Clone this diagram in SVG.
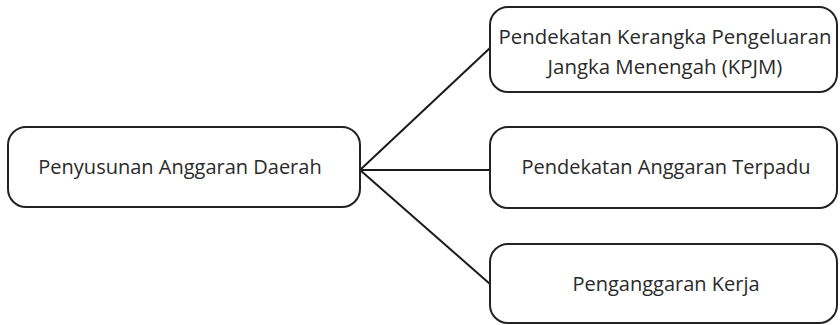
<svg xmlns="http://www.w3.org/2000/svg" width="840" height="325" viewBox="0 0 840 325">
<style>
.box{fill:#fff;stroke:#222;stroke-width:2}
.t{font-family:"Open Sans","Liberation Sans",sans-serif;font-size:20px;fill:#2a2a2a;text-anchor:middle}
.big{font-size:20.4px}
.c{stroke:#1a1a1a;stroke-width:2;fill:none}
</style>
<rect width="840" height="325" fill="#fff"/>
<g id="connectors">
<line class="c" x1="360" y1="170" x2="490" y2="48"/>
<line class="c" x1="360" y1="170" x2="490" y2="170"/>
<line class="c" x1="360" y1="170" x2="490" y2="284"/>
</g>
<g id="root">
<rect class="box" x="8" y="127" width="352" height="80" rx="18"/>
<text class="t" x="180" y="174">Penyusunan Anggaran Daerah</text>
</g>
<g id="kpjm">
<rect class="box" x="490" y="7" width="347" height="85" rx="18"/>
<text class="t big" x="665" y="44">Pendekatan Kerangka Pengeluaran</text>
<text class="t big" x="665" y="74">Jangka Menengah (KPJM)</text>
</g>
<g id="terpadu">
<rect class="box" x="490" y="127" width="347" height="81" rx="18"/>
<text class="t" x="666" y="174">Pendekatan Anggaran Terpadu</text>
</g>
<g id="kerja">
<rect class="box" x="490" y="244" width="347" height="79" rx="18"/>
<text class="t" x="666" y="291">Penganggaran Kerja</text>
</g>
</svg>
